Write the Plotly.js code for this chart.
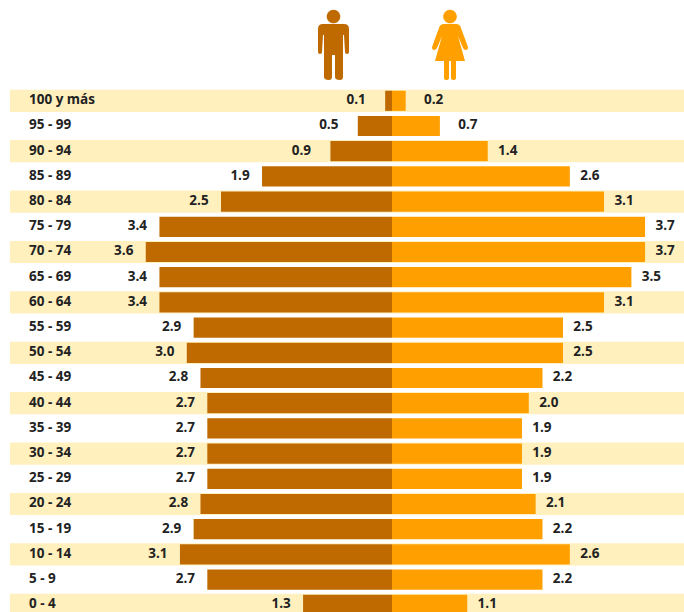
<!DOCTYPE html>
<html><head><meta charset="utf-8">
<script src="https://cdn.plot.ly/plotly-3.0.1.min.js"></script>
<style>html,body{margin:0;padding:0;background:#fff;overflow:hidden}</style>
</head><body><div id="chart" style="width:684px;height:612px"></div>
<script>
var ageGroups = ["100 y más","95 - 99","90 - 94","85 - 89","80 - 84","75 - 79","70 - 74","65 - 69","60 - 64","55 - 59","50 - 54","45 - 49","40 - 44","35 - 39","30 - 34","25 - 29","20 - 24","15 - 19","10 - 14","5 - 9","0 - 4"];
var men   = [0.1,0.5,0.9,1.9,2.5,3.4,3.6,3.4,3.4,2.9,3.0,2.8,2.7,2.7,2.7,2.7,2.8,2.9,3.1,2.7,1.3];
var women = [0.2,0.7,1.4,2.6,3.1,3.7,3.7,3.5,3.1,2.5,2.5,2.2,2.0,1.9,1.9,1.9,2.1,2.2,2.6,2.2,1.1];

var W = 684, H = 612;
var pxPerUnit = 68.4, centerPx = 392, ageLabelPx = 29;
var rowPx = 25.2, firstRowPx = 100.8;
var xRange = [-centerPx/pxPerUnit, (W-centerPx)/pxPerUnit];
var yRange = [(H-firstRowPx)/rowPx, -firstRowPx/rowPx];
var menColor = "#BF6A00", womenColor = "#FFA000", bandColor = "#FFF0BE", textColor = "#222222";
var font = {family:"'Open Sans', sans-serif", size:13.5, color:textColor, weight:700};

function gap(v, shortGap, longGap){ return (v < 1 ? shortGap : longGap) / pxPerUnit; }

var traces = [
  {type:"bar", orientation:"h", y:ageGroups, x:men.map(function(v){return -v;}), width:0.8,
   marker:{color:menColor}, hoverinfo:"skip"},
  {type:"bar", orientation:"h", y:ageGroups, x:women, width:0.8,
   marker:{color:womenColor}, hoverinfo:"skip"},
  {type:"scatter", mode:"text", y:ageGroups, x:men.map(function(v){return -(v+gap(v,29,22));}),
   text:men.map(function(v){return v.toFixed(1);}), textposition:"middle center", textfont:font, hoverinfo:"skip", cliponaxis:false},
  {type:"scatter", mode:"text", y:ageGroups, x:women.map(function(v){return v+gap(v,28,20);}),
   text:women.map(function(v){return v.toFixed(1);}), textposition:"middle center", textfont:font, hoverinfo:"skip", cliponaxis:false},
  {type:"scatter", mode:"text", y:ageGroups, x:ageGroups.map(function(){return (ageLabelPx-centerPx)/pxPerUnit;}),
   text:ageGroups, textposition:"middle right", textfont:font, hoverinfo:"skip", cliponaxis:false}
];

var shapes = [];
ageGroups.forEach(function(g,i){
  if(i%2===0) shapes.push({type:"rect", layer:"below", xref:"paper", yref:"y",
    x0:10/W, x1:1, y0:i-0.44, y1:i+0.44, line:{width:0}, fillcolor:bandColor});
});

function icon(pts, color){
  var d = pts.replace(/(-?[\d.]+),(-?[\d.]+)/g, function(m,x,y){
    return (x/W).toFixed(5)+","+(1-y/H).toFixed(5);
  });
  return {type:"path", xref:"paper", yref:"paper", path:d, fillcolor:color, line:{width:0}};
}
function head(cx,cy,r){
  var k=r*0.55;
  return "M"+(cx-r)+","+cy+" C"+(cx-r)+","+(cy-k)+" "+(cx-k)+","+(cy-r)+" "+cx+","+(cy-r)+
    " C"+(cx+k)+","+(cy-r)+" "+(cx+r)+","+(cy-k)+" "+(cx+r)+","+cy+
    " C"+(cx+r)+","+(cy+k)+" "+(cx+k)+","+(cy+r)+" "+cx+","+(cy+r)+
    " C"+(cx-k)+","+(cy+r)+" "+(cx-r)+","+(cy+k)+" "+(cx-r)+","+cy+" Z";
}
var manBody = "M323,24 L344,24 Q349,24 349,29 L349,52 Q349,54 347,54 Q345,54 345,52 L344,35 L343,35 L343,77 Q343,80 340,80 Q335,80 335,77 L335,55 L332,55 L332,77 Q332,80 329,80 Q324,80 324,77 L324,35 L323,35 L322,52 Q322,54 320,54 Q318,54 318,52 L318,29 Q318,24 323,24 Z";
var womanBody = "M444,24 L456,24 Q460,24 461,28 L468,47 Q468,50 466,50 Q464,50 463,48 L458,36 L465,61 L456,61 L456,78 Q456,80 453,80 Q451,80 451,78 L451,61 L449,61 L449,78 Q449,80 446,80 Q444,80 444,78 L444,61 L435,61 L442,36 L437,48 Q436,50 434,50 Q432,50 432,47 L439,28 Q440,24 444,24 Z";
shapes.push(icon(head(333.5,16.5,6.8),menColor), icon(manBody,menColor),
            icon(head(450,16.5,6.8),womenColor), icon(womanBody,womenColor));

var layout = {
  width:W, height:H, margin:{l:0,r:0,t:0,b:0}, paper_bgcolor:"#fff", plot_bgcolor:"rgba(0,0,0,0)",
  barmode:"overlay", showlegend:false, shapes:shapes,
  xaxis:{range:xRange, visible:false, fixedrange:true},
  yaxis:{type:"category", categoryorder:"array", categoryarray:ageGroups, range:yRange,
    visible:false, fixedrange:true}
};
Plotly.newPlot("chart", traces, layout, {staticPlot:true, displayModeBar:false});
</script></body></html>
